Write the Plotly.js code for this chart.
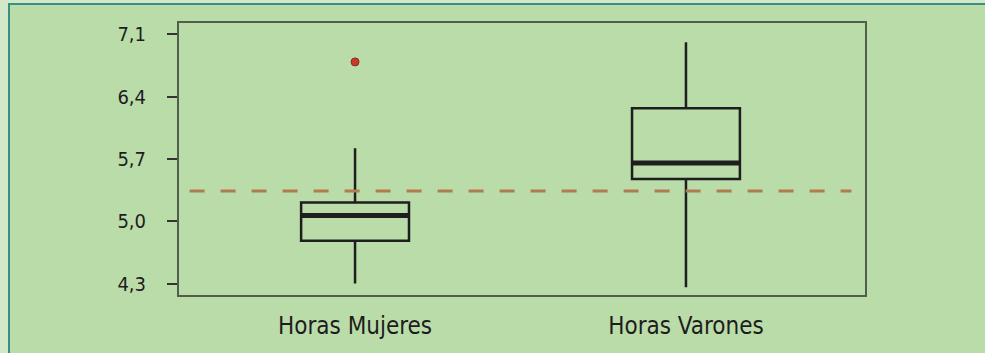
<!DOCTYPE html>
<html>
<head>
<meta charset="utf-8">
<script src="https://cdn.plot.ly/plotly-3.0.1.min.js"></script>
<style>
  html, body { margin: 0; padding: 0; background: #d2e8c8; width: 985px; height: 353px; overflow: hidden; }
  #frame {
    position: absolute; left: 8px; top: 3px;
    width: 975px; height: 348px;
    border-left: 2px solid #3a8f85; border-top: 2px solid #3a8f85;
    background: #b9dca9;
  }
</style>
</head>
<body>
<div id="frame"><div id="chart"></div></div>
<script>
// box positions and labels
var positions = [0, 1];
var categories = ['Horas Mujeres', 'Horas Varones'];

// precomputed box statistics
var lowerFence = [4.30, 4.26];
var q1 = [4.78, 5.475];
var median = [5.065, 5.655];
var q3 = [5.21, 6.27];
var upperFence = [5.82, 7.01];

// outlier points
var outlierX = [0];
var outlierY = [6.79];

// dashed reference level
var refX = [-0.5, 1.5];
var refLevel = 5.34;

// y axis ticks
var yTickVals = [4.3, 5.0, 5.7, 6.4, 7.1];
var yTickText = ['4,3', '5,0', '5,7', '6,4', '7,1'];

var boxWidth = 0.326;
var ink = '#1e1e1e';
var font = '"DejaVu Sans Condensed", "Liberation Sans Narrow", sans-serif';

var boxes = {
  type: 'box',
  x: positions,
  q1: q1,
  median: median,
  q3: q3,
  lowerfence: lowerFence,
  upperfence: upperFence,
  width: boxWidth,
  whiskerwidth: 0,
  boxpoints: false,
  fillcolor: 'rgba(0,0,0,0)',
  line: { color: ink, width: 2.5 },
  hoverinfo: 'skip'
};

// heavier median bars drawn on top of the boxes
var medX = [], medY = [];
for (var i = 0; i < positions.length; i++) {
  medX.push(positions[i] - boxWidth / 2, positions[i] + boxWidth / 2, null);
  medY.push(median[i], median[i], null);
}
var medians = {
  type: 'scatter',
  mode: 'lines',
  x: medX,
  y: medY,
  line: { color: ink, width: 5 },
  hoverinfo: 'skip'
};

var reference = {
  type: 'scatter',
  mode: 'lines',
  x: refX,
  y: [refLevel, refLevel],
  line: { color: '#b07d50', width: 3, dash: '15px,16px' },
  hoverinfo: 'skip'
};

var outliers = {
  type: 'scatter',
  mode: 'markers',
  x: outlierX,
  y: outlierY,
  marker: { color: '#c63b2a', size: 8, line: { color: '#8e2a1c', width: 1 } },
  hoverinfo: 'skip'
};

var layout = {
  width: 975,
  height: 348,
  margin: { l: 169, r: 120, t: 18, b: 58 },
  paper_bgcolor: 'rgba(0,0,0,0)',
  plot_bgcolor: 'rgba(0,0,0,0)',
  showlegend: false,
  font: { family: font, color: '#1f1c1d' },
  xaxis: {
    range: [-0.532, 1.541],
    tickvals: positions,
    ticktext: categories,
    tickfont: { size: 24, family: font },
    ticks: '',
    ticklabelstandoff: 8,
    showgrid: false,
    zeroline: false,
    showline: true,
    mirror: true,
    linecolor: '#4f5f4a',
    linewidth: 2
  },
  yaxis: {
    range: [4.172, 7.227],
    tickvals: yTickVals,
    ticktext: yTickText,
    tickfont: { size: 20, family: font },
    ticks: 'outside',
    ticklen: 10,
    tickwidth: 2,
    tickcolor: '#333333',
    ticklabelstandoff: 17,
    showgrid: false,
    zeroline: false,
    showline: true,
    mirror: true,
    linecolor: '#4f5f4a',
    linewidth: 2
  }
};

Plotly.newPlot('chart', [reference, boxes, medians, outliers], layout, { staticPlot: true });
</script>
</body>
</html>
